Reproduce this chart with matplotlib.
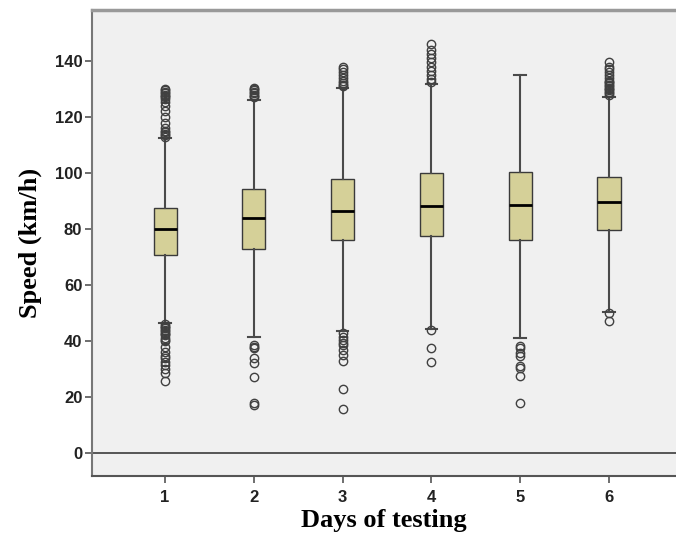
import numpy as np
import matplotlib.pyplot as plt

# Speed by day of testing (km/h)
days = [1, 2, 3, 4, 5, 6]
q1 = [70.7, 72.9, 76.1, 77.6, 76.1, 79.6]
med = [79.9, 83.8, 86.5, 88.3, 88.6, 89.5]
q3 = [87.4, 94.2, 97.9, 99.9, 100.2, 98.7]
whislo = [46.5, 41.3, 43.7, 44.3, 41.0, 50.5]
whishi = [112.6, 126.0, 130.2, 131.8, 135.0, 127.3]

outliers = [
    [113, 113.5, 114, 114.5, 115, 116, 118, 120, 122, 124, 125.5, 126.5, 127,
     127.5, 128, 128.5, 129, 129.5, 130,
     46, 45.5, 45, 44.5, 44, 43.5, 43, 42.5, 42, 41, 40.5, 40, 38, 36,
     34.5, 34, 32.5, 31.5, 30, 28.5, 25.7],
    [127, 127.5, 128, 128.5, 129, 129.5, 130, 130.5,
     38.6, 38, 37.5, 33.8, 32.3, 27.3, 17.7, 17.1],
    [131, 131.5, 132, 133, 134, 135, 136, 137, 138,
     42.7, 41.5, 40.5, 39.4, 38.5, 36.8, 35, 32.9, 22.9, 15.7],
    [132.5, 133.5, 135, 136.5, 138, 139.5, 141, 142.5, 144, 146,
     43.8, 37.6, 32.6],
    [38.2, 37.5, 35.6, 34.8, 31.1, 30.2, 27.5, 17.7],
    [128, 128.5, 129, 129.5, 130, 130.5, 131, 131.5, 132, 132.5, 133, 134,
     135, 136, 137, 138, 139.5,
     50.0, 47.3],
]

stats = []
for i in range(len(days)):
    stats.append(dict(med=med[i], q1=q1[i], q3=q3[i], whislo=whislo[i],
                      whishi=whishi[i], fliers=outliers[i]))

fig = plt.figure(figsize=(6.76, 5.37), dpi=100)
ax = fig.add_axes([92/676, 61/537, 1 - 92/676, 466/537])
ax.set_facecolor('#f0f0f0')

ax.axhline(0, color='#555555', linewidth=1.4, zorder=1)

ax.bxp(stats, positions=days, widths=0.26, patch_artist=True,
       boxprops=dict(facecolor='#d5d098', edgecolor='#3a3a3a', linewidth=1.0),
       medianprops=dict(color='black', linewidth=2),
       whiskerprops=dict(color='#4a4a4a', linewidth=1.5),
       capprops=dict(color='#4a4a4a', linewidth=1.5),
       capwidths=0.13,
       flierprops=dict(marker='o', markerfacecolor='none',
                       markeredgecolor='#404040', markersize=6,
                       markeredgewidth=1.0),
       zorder=2)

ax.set_xlim(0.177, 6.755)
ax.set_ylim(-8.2, 158.2)
ax.set_yticks([0, 20, 40, 60, 80, 100, 120, 140])
ax.set_xticks(days)
ax.set_xticklabels([str(d) for d in days])

for lab in ax.get_xticklabels() + ax.get_yticklabels():
    lab.set_fontfamily('Liberation Sans')
    lab.set_fontweight('bold')
    lab.set_fontsize(12)
    lab.set_color('#222222')
ax.tick_params(axis='both', length=5, width=1.2, color='#555555', pad=2)
ax.tick_params(axis='x', pad=5)

ax.spines['right'].set_visible(False)
ax.spines['top'].set_color('#999999')
ax.spines['top'].set_linewidth(2.5)
ax.spines['left'].set_color('#777777')
ax.spines['left'].set_linewidth(1.5)
ax.spines['bottom'].set_color('#555555')
ax.spines['bottom'].set_linewidth(1.5)

ax.set_ylabel('Speed (km/h)', fontfamily='Liberation Serif',
              fontweight='bold', fontsize=19, labelpad=9)
ax.set_xlabel('Days of testing', fontfamily='Liberation Serif',
              fontweight='bold', fontsize=19, labelpad=3)

fig.savefig('out.png', dpi=100)
